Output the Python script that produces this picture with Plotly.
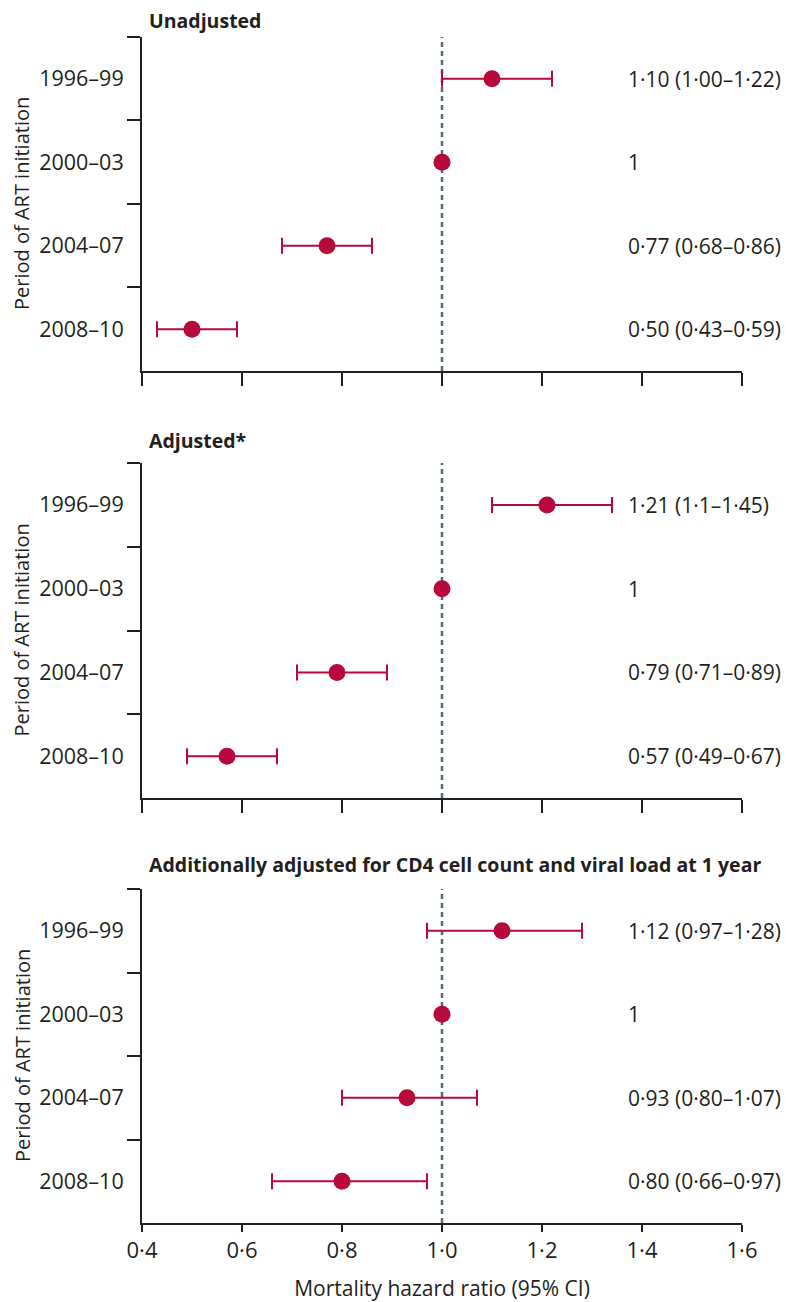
import plotly.graph_objects as go

# Data
periods = ["1996–99", "2000–03", "2004–07", "2008–10"]
panel_titles = [
    "Unadjusted",
    "Adjusted*",
    "Additionally adjusted for CD4 cell count and viral load at 1 year",
]

unadj_hr = [1.10, 1.00, 0.77, 0.50]
unadj_lo = [1.00, 1.00, 0.68, 0.43]
unadj_hi = [1.22, 1.00, 0.86, 0.59]
unadj_text = ["1·10 (1·00–1·22)", "1", "0·77 (0·68–0·86)", "0·50 (0·43–0·59)"]

adj_hr = [1.21, 1.00, 0.79, 0.57]
adj_lo = [1.10, 1.00, 0.71, 0.49]
adj_hi = [1.34, 1.00, 0.89, 0.67]
adj_text = ["1·21 (1·1–1·45)", "1", "0·79 (0·71–0·89)", "0·57 (0·49–0·67)"]

cd4_hr = [1.12, 1.00, 0.93, 0.80]
cd4_lo = [0.97, 1.00, 0.80, 0.66]
cd4_hi = [1.28, 1.00, 1.07, 0.97]
cd4_text = ["1·12 (0·97–1·28)", "1", "0·93 (0·80–1·07)", "0·80 (0·66–0·97)"]

x_ticks = [0.4, 0.6, 0.8, 1.0, 1.2, 1.4, 1.6]
x_ticktext = ["0·4", "0·6", "0·8", "1·0", "1·2", "1·4", "1·6"]

RED = "#b8093c"
REF = "#4f6b78"
INK = "#231f20"
FONT = "Open Sans"

panels = [
    (unadj_hr, unadj_lo, unadj_hi, unadj_text),
    (adj_hr, adj_lo, adj_hi, adj_text),
    (cd4_hr, cd4_lo, cd4_hi, cd4_text),
]
# vertical domains (paper coords) for the three panels, top to bottom
domains = [[0.7184, 1.0], [0.3583, 0.6408], [0.0, 0.2816]]
title_y = [1.0143, 0.6602, 0.3019]

fig = go.Figure()
annotations = []
shapes = []

for i, (hr, lo, hi, txt) in enumerate(panels):
    n = i + 1
    xa = "x" if n == 1 else f"x{n}"
    ya = "y" if n == 1 else f"y{n}"
    fig.add_trace(go.Scatter(
        x=hr, y=periods, mode="markers",
        marker=dict(color=RED, size=17),
        error_x=dict(
            type="data", symmetric=False,
            array=[h - v for h, v in zip(hi, hr)],
            arrayminus=[v - l for v, l in zip(hr, lo)],
            color=RED, thickness=2, width=8,
        ),
        xaxis=xa, yaxis=ya, showlegend=False, cliponaxis=False,
    ))
    shapes.append(dict(
        type="line", xref=xa, yref=f"{ya} domain", x0=1, x1=1, y0=0, y1=1,
        line=dict(color=REF, width=2.5, dash="5px,4px"), layer="below",
    ))
    for p, t in zip(periods, txt):
        annotations.append(dict(
            xref=xa, yref=ya, x=1.368, y=p, text=t, showarrow=False,
            xanchor="left", yanchor="middle",
            font=dict(family=FONT, size=21, color=INK),
        ))
    annotations.append(dict(
        xref="paper", yref="paper", x=0.0083, y=title_y[i],
        text=f"<b>{panel_titles[i]}</b>",
        showarrow=False, xanchor="left", yanchor="middle",
        font=dict(family=FONT, size=19.5, color=INK),
    ))
    annotations.append(dict(
        xref="paper", yref="paper", x=-0.2, y=sum(domains[i]) / 2,
        text="Period of ART initiation", textangle=-90, showarrow=False,
        xanchor="center", yanchor="middle",
        font=dict(family=FONT, size=20, color=INK),
    ))

    axis_x = dict(
        range=[0.4, 1.6], tickvals=x_ticks, ticktext=x_ticktext,
        showticklabels=(n == 3), ticks="outside",
        ticklen=(7 if n == 3 else 13), tickwidth=2,
        tickcolor=INK, showline=True, linecolor=INK, linewidth=2,
        showgrid=False, zeroline=False, anchor=ya,
        tickfont=dict(family=FONT, size=22, color=INK),
    )
    if n == 3:
        axis_x["title"] = dict(text="Mortality hazard ratio (95% CI)", standoff=18,
                               font=dict(family=FONT, size=21, color=INK))
    axis_y = dict(
        type="category", categoryorder="array", categoryarray=periods,
        range=[3.5, -0.5], tickson="boundaries", ticks="outside",
        ticklen=13, tickwidth=2, tickcolor=INK, showline=True, linecolor=INK,
        linewidth=2, showgrid=False, zeroline=False, anchor=xa,
        domain=domains[i], ticklabelstandoff=12,
        tickfont=dict(family=FONT, size=21.5, color=INK),
    )
    key = "" if n == 1 else str(n)
    fig.update_layout({f"xaxis{key}": axis_x, f"yaxis{key}": axis_y})

# longer tick marks for the bottom axis, drawn on an overlaid axis without labels
fig.update_layout(xaxis4=dict(
    overlaying="x3", anchor="y3", range=[0.4, 1.6], tickvals=x_ticks,
    ticks="outside", ticklen=13, tickwidth=2, tickcolor=INK,
    showticklabels=False, showline=False, showgrid=False, zeroline=False,
))

fig.update_layout(
    width=790, height=1302,
    margin=dict(l=134, r=56, t=29, b=87),
    plot_bgcolor="white", paper_bgcolor="white",
    annotations=annotations, shapes=shapes,
    font=dict(family=FONT, color=INK),
)

fig.write_html("out.html")
